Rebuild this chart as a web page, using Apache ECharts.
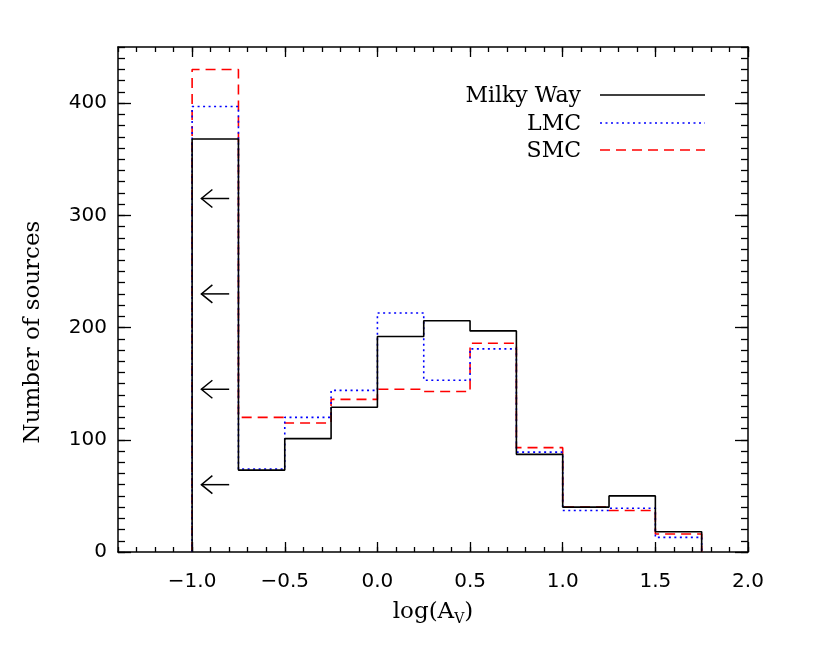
<!DOCTYPE html>
<html><head><meta charset="utf-8">
<script src="https://cdn.jsdelivr.net/npm/echarts@6/dist/echarts.min.js"></script>
<style>html,body{margin:0;padding:0;background:#fff}#c{width:830px;height:648px}</style>
</head><body><div id="c"></div>
<script>
// ---- data ----
const binEdges = [-1.0, -0.75, -0.5, -0.25, 0.0, 0.25, 0.5, 0.75, 1.0, 1.25, 1.5, 1.75];
const milkyWay = [368, 73, 101, 129, 192, 206, 197, 87, 40, 50, 18];
const lmc      = [397, 74, 120, 144, 213, 153, 181, 89, 37, 39, 13];
const smc      = [430, 120, 115, 136, 145, 143, 186, 93, 40, 37, 16];
const arrowLevels = [315, 230, 145, 60];
const arrowTipX = -0.95, arrowTailX = -0.80;
const xRange = [-1.4, 2.0];
const yRange = [0, 450];
const xMajorTicks = [-1.0, -0.5, 0.0, 0.5, 1.0, 1.5, 2.0];
const xTickLabels = ['\u22121.0', '\u22120.5', '0.0', '0.5', '1.0', '1.5', '2.0'];
const yMajorTicks = [0, 100, 200, 300, 400];
const yTickLabels = ['0', '100', '200', '300', '400'];
const seriesNames = ['Milky Way', 'LMC', 'SMC'];

// minor tick positions (axis decoration only)
const xMinorTicks = [];
for (let k = 0; k <= 34; k++) xMinorTicks.push(Math.round((xRange[0] + k * 0.1) * 10) / 10);
const yMinorTicks = [];
for (let k = 0; k <= 45; k++) yMinorTicks.push(k * 10);

function steps(vals) {
  const pts = [[binEdges[0], 0]];
  vals.forEach((v, i) => pts.push([binEdges[i], v]));
  const n = vals.length;
  pts.push([binEdges[n], vals[n - 1]]);
  pts.push([binEdges[n], 0]);
  return pts;
}
function lookup(ticks, labels, v) {
  const i = ticks.findIndex(t => Math.abs(t - v) < 1e-6);
  return i >= 0 ? labels[i] : '';
}

const BLACK = '#000000', BLUE = '#0000ff', RED = '#ff0000';
const numFont = '"DejaVu Sans"';
const txtFont = '"DejaVu Serif"';
const lineW = 1.5;

function xAx(pos, major) {
  return {
    type: 'value', position: pos, min: xRange[0], max: xRange[1], offset: 0,
    axisLine: { show: major, onZero: false, lineStyle: { color: BLACK, width: lineW } },
    axisTick: { show: true, inside: true, length: major ? 10 : 5,
      customValues: major ? xMajorTicks : xMinorTicks, lineStyle: { color: BLACK, width: 1.3 } },
    axisLabel: (major && pos === 'bottom') ? {
      show: true, customValues: xMajorTicks, margin: 20, color: BLACK,
      fontFamily: numFont, fontSize: 20,
      formatter: v => lookup(xMajorTicks, xTickLabels, v)
    } : { show: false },
    splitLine: { show: false }
  };
}
function yAx(pos, major) {
  return {
    type: 'value', position: pos, min: yRange[0], max: yRange[1], offset: 0,
    axisLine: { show: major, onZero: false, lineStyle: { color: BLACK, width: lineW } },
    axisTick: { show: true, inside: true, length: major ? 13 : 7,
      customValues: major ? yMajorTicks : yMinorTicks, lineStyle: { color: BLACK, width: 1.3 } },
    axisLabel: (major && pos === 'left') ? {
      show: true, customValues: yMajorTicks, margin: 11, color: BLACK,
      fontFamily: numFont, fontSize: 20,
      formatter: v => lookup(yMajorTicks, yTickLabels, v)
    } : { show: false },
    splitLine: { show: false }
  };
}

const chart = echarts.init(document.getElementById('c'), null, { renderer: 'canvas' });
const option = {
  backgroundColor: '#ffffff',
  animation: false,
  grid: { left: 118, right: 82, top: 47, bottom: 96, containLabel: false },
  xAxis: [xAx('bottom', true), xAx('bottom', false), xAx('top', true), xAx('top', false)],
  yAxis: [yAx('left', true), yAx('left', false), yAx('right', true), yAx('right', false)],
  series: [
    { name: seriesNames[2], type: 'line', step: 'end', data: steps(smc), symbol: 'none',
      lineStyle: { color: RED, width: 1.6, type: [10, 6] }, z: 2 },
    { name: seriesNames[1], type: 'line', step: 'end', data: steps(lmc), symbol: 'none',
      lineStyle: { color: BLUE, width: 1.6, type: [2, 3.5] }, z: 3 },
    { name: seriesNames[0], type: 'line', step: 'end', data: steps(milkyWay), symbol: 'none',
      lineStyle: { color: BLACK, width: 1.6 }, z: 4 },
    { name: 'limits', type: 'custom', data: arrowLevels.map(v => [arrowTipX, v]), z: 5,
      renderItem: function (params, api) {
        const y = api.value(1);
        const tip = api.coord([arrowTipX, y]);
        const tail = api.coord([arrowTailX, y]);
        return { type: 'group', children: [
          { type: 'line', shape: { x1: tip[0], y1: tip[1], x2: tail[0], y2: tail[1] },
            style: { stroke: BLACK, lineWidth: 1.5 } },
          { type: 'polyline', shape: { points: [[tip[0] + 11, tip[1] - 9], [tip[0], tip[1]], [tip[0] + 11, tip[1] + 9]] },
            style: { stroke: BLACK, fill: null, lineWidth: 1.5 } }
        ] };
      }
    }
  ],
  graphic: [
    // legend
    { type: 'text', x: 581, y: 96, style: { text: seriesNames[0], fontFamily: txtFont, fontSize: 22, fill: BLACK, align: 'right', verticalAlign: 'middle' } },
    { type: 'line', shape: { x1: 600, y1: 95, x2: 705, y2: 95 }, style: { stroke: BLACK, lineWidth: 1.5 } },
    { type: 'text', x: 581, y: 124, style: { text: seriesNames[1], fontFamily: txtFont, fontSize: 22, fill: BLACK, align: 'right', verticalAlign: 'middle' } },
    { type: 'line', shape: { x1: 600, y1: 123, x2: 705, y2: 123 }, style: { stroke: BLUE, lineWidth: 1.6, lineDash: [2, 3.5] } },
    { type: 'text', x: 581, y: 151, style: { text: seriesNames[2], fontFamily: txtFont, fontSize: 22, fill: BLACK, align: 'right', verticalAlign: 'middle' } },
    { type: 'line', shape: { x1: 600, y1: 150, x2: 705, y2: 150 }, style: { stroke: RED, lineWidth: 1.6, lineDash: [10, 6] } },
    // axis titles
    { type: 'text', x: 33, y: 332, rotation: Math.PI / 2,
      style: { text: 'Number of sources', fontFamily: txtFont, fontSize: 23, fill: BLACK, align: 'center', verticalAlign: 'middle' } },
    { type: 'text', x: 433, y: 612,
      style: { text: 'log(A{sub|V})', fontFamily: txtFont, fontSize: 23, lineHeight: 28, fill: BLACK,
        align: 'center', verticalAlign: 'middle',
        rich: { sub: { fontFamily: txtFont, fontSize: 14, lineHeight: 14, verticalAlign: 'bottom', fill: BLACK } } } }
  ]
};
chart.setOption(option);
</script>
</body></html>
